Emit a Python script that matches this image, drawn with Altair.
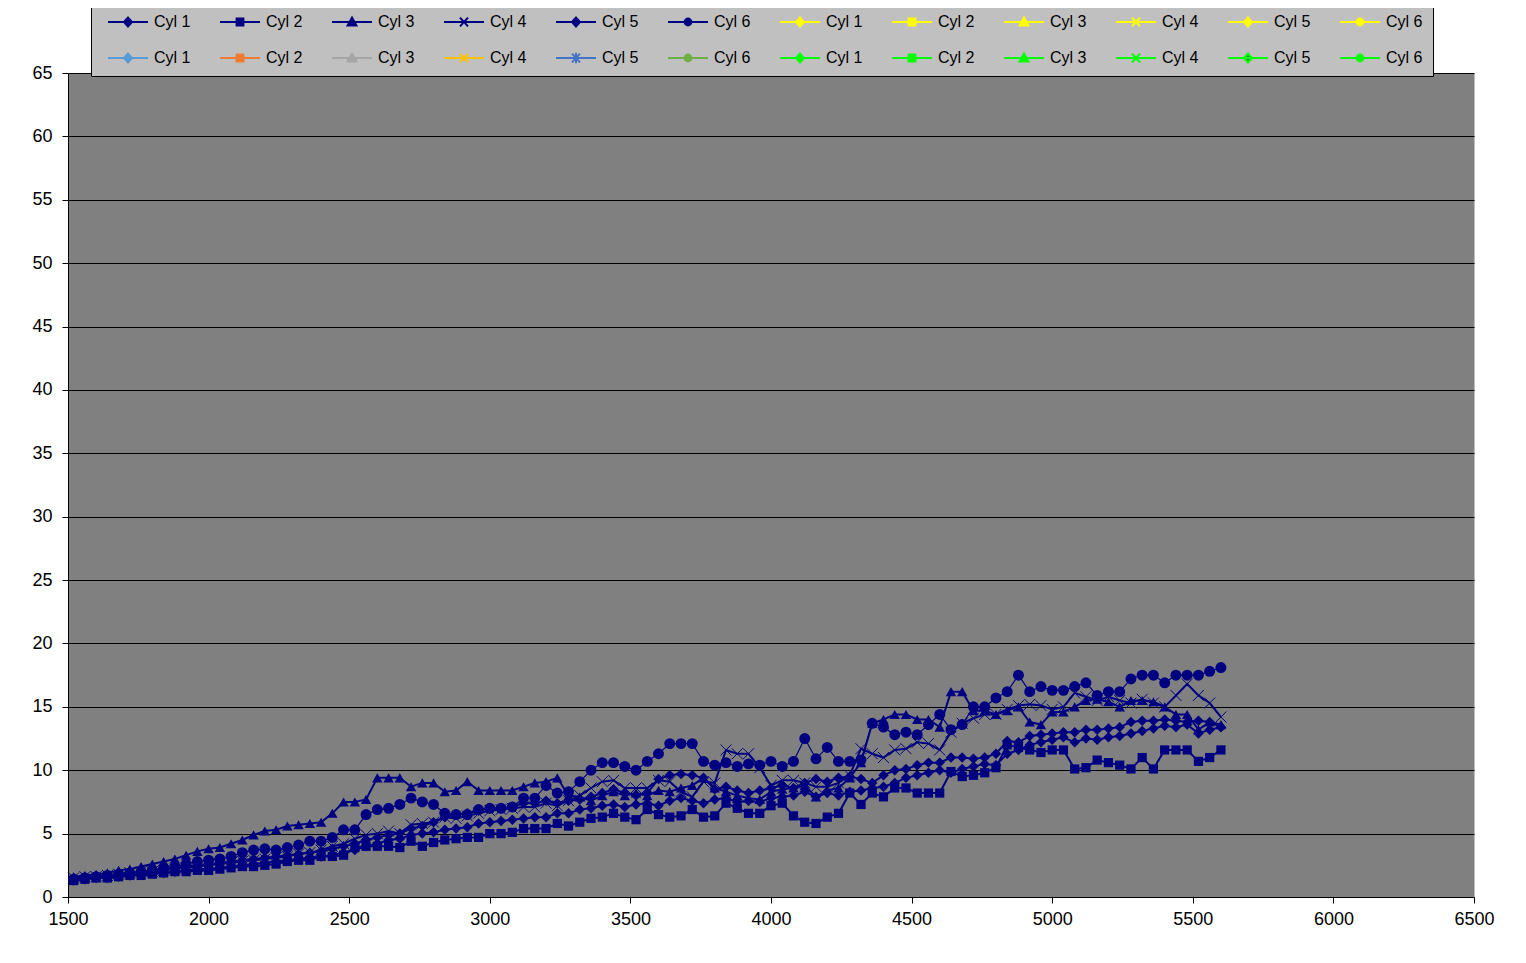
import altair as alt
import pandas as pd

# ---------------- data ----------------
RPM = [1520, 1560, 1600, 1640, 1680, 1720, 1760, 1800, 1840, 1880,
       1920, 1960, 2000, 2040, 2080, 2120, 2160, 2200, 2240, 2280,
       2320, 2360, 2400, 2440, 2480, 2520, 2560, 2600, 2640, 2680,
       2720, 2760, 2800, 2840, 2880, 2920, 2960, 3000, 3040, 3080,
       3120, 3160, 3200, 3240, 3280, 3320, 3360, 3400, 3440, 3480,
       3520, 3560, 3600, 3640, 3680, 3720, 3760, 3800, 3840, 3880,
       3920, 3960, 4000, 4040, 4080, 4120, 4160, 4200, 4240, 4280,
       4320, 4360, 4400, 4440, 4480, 4520, 4560, 4600, 4640, 4680,
       4720, 4760, 4800, 4840, 4880, 4920, 4960, 5000, 5040, 5080,
       5120, 5160, 5200, 5240, 5280, 5320, 5360, 5400, 5440, 5480,
       5520, 5560, 5600]

CYL1 = [1.5, 1.6, 1.6, 1.7, 1.8, 1.9, 2.0, 2.1, 2.2, 2.3,
        2.4, 2.5, 2.6, 2.7, 2.8, 2.9, 3.0, 3.1, 3.2, 3.3,
        3.4, 3.5, 3.6, 3.8, 4.0, 4.2, 4.5, 4.7, 4.9, 5.0,
        5.4, 5.6, 5.9, 6.3, 6.5, 6.6, 6.8, 7.0, 7.0, 7.1,
        7.4, 7.4, 7.6, 7.4, 7.6, 7.7, 7.9, 8.2, 8.5, 8.2,
        8.0, 8.2, 9.3, 9.6, 9.7, 9.6, 9.4, 8.5, 8.7, 8.4,
        8.2, 8.4, 8.6, 8.8, 8.6, 9.0, 9.3, 9.1, 9.4, 9.5,
        9.3, 9.0, 9.6, 10.0, 10.1, 10.4, 10.6, 10.6, 11.0, 11.0,
        10.9, 11.0, 11.3, 12.3, 12.2, 12.7, 12.8, 12.9, 13.0, 13.0,
        13.2, 13.2, 13.3, 13.4, 13.8, 13.9, 13.9, 14.0, 13.9, 13.8,
        13.9, 13.8, 13.4]

CYL2 = [1.3, 1.4, 1.5, 1.5, 1.6, 1.7, 1.7, 1.8, 1.9, 2.0,
        2.0, 2.1, 2.1, 2.2, 2.3, 2.4, 2.4, 2.5, 2.6, 2.8,
        2.9, 2.9, 3.2, 3.2, 3.3, 3.9, 4.0, 4.0, 4.0, 3.9,
        4.4, 4.0, 4.3, 4.5, 4.6, 4.7, 4.7, 5.0, 5.0, 5.1,
        5.4, 5.4, 5.4, 5.8, 5.6, 5.9, 6.2, 6.3, 6.6, 6.3,
        6.1, 6.9, 6.5, 6.3, 6.4, 6.9, 6.3, 6.4, 7.4, 7.0,
        6.6, 6.6, 7.2, 7.4, 6.4, 5.9, 5.8, 6.3, 6.6, 8.2,
        7.3, 8.2, 7.9, 8.6, 8.6, 8.2, 8.2, 8.2, 9.9, 9.5,
        9.6, 9.8, 10.2, 12.0, 11.8, 11.6, 11.4, 11.6, 11.6, 10.1,
        10.2, 10.8, 10.6, 10.4, 10.1, 11.0, 10.1, 11.6, 11.6, 11.6,
        10.7, 11.0, 11.6]

CYL3 = [1.6, 1.7, 1.8, 1.9, 2.1, 2.2, 2.4, 2.6, 2.8, 3.0,
        3.3, 3.6, 3.8, 3.9, 4.2, 4.5, 4.9, 5.2, 5.3, 5.6,
        5.7, 5.8, 5.9, 6.6, 7.5, 7.5, 7.7, 9.4, 9.4, 9.4,
        8.7, 9.0, 9.0, 8.3, 8.4, 9.1, 8.4, 8.4, 8.4, 8.4,
        8.7, 9.0, 9.1, 9.4, 8.0, 7.9, 7.6, 8.0, 8.3, 8.0,
        8.2, 8.0, 8.4, 8.3, 8.6, 8.8, 9.4, 8.6, 8.3, 8.0,
        7.8, 7.7, 8.3, 8.5, 8.6, 8.8, 7.9, 8.4, 8.6, 9.4,
        10.6, 13.7, 14.0, 14.4, 14.4, 14.0, 14.0, 13.4, 16.2, 16.2,
        14.7, 14.7, 14.4, 14.7, 15.0, 13.8, 13.6, 14.6, 14.6, 15.0,
        15.5, 15.6, 15.4, 15.0, 15.5, 15.5, 15.4, 15.0, 14.4, 14.4,
        13.2, 13.8, 13.6]

CYL4 = [1.5, 1.6, 1.6, 1.7, 1.8, 1.9, 2.0, 2.0, 2.1, 2.2,
        2.3, 2.4, 2.5, 2.6, 2.7, 2.8, 2.9, 3.0, 3.1, 3.2,
        3.4, 3.5, 3.7, 4.0, 4.2, 4.6, 4.9, 5.0, 5.2, 5.0,
        5.7, 5.8, 5.9, 6.3, 6.2, 6.4, 6.6, 6.8, 6.9, 7.0,
        7.1, 7.1, 7.4, 7.2, 7.6, 8.0, 8.6, 9.1, 9.2, 8.6,
        8.6, 8.6, 9.2, 9.1, 8.3, 7.9, 9.1, 9.0, 11.6, 11.3,
        11.3, 10.2, 8.8, 9.2, 9.2, 9.0, 8.7, 8.7, 9.0, 9.6,
        11.7, 11.3, 11.0, 11.6, 11.7, 12.2, 12.1, 11.6, 13.0, 13.7,
        14.1, 14.4, 14.4, 14.8, 15.1, 15.2, 15.1, 14.8, 15.0, 16.1,
        15.8, 15.5, 15.8, 15.5, 15.3, 15.6, 15.3, 15.0, 15.9, 16.8,
        15.9, 15.3, 14.2]

CYL5 = [1.3, 1.4, 1.5, 1.5, 1.6, 1.7, 1.8, 1.9, 1.9, 2.0,
        2.1, 2.2, 2.2, 2.3, 2.4, 2.5, 2.6, 2.7, 2.8, 2.9,
        3.0, 3.1, 3.2, 3.3, 3.5, 3.7, 4.0, 4.2, 4.5, 4.6,
        4.9, 5.0, 5.1, 5.3, 5.4, 5.5, 5.8, 5.9, 6.0, 6.1,
        6.2, 6.3, 6.3, 6.6, 6.6, 6.9, 7.0, 7.2, 7.3, 7.1,
        7.3, 7.4, 7.2, 7.6, 7.8, 7.6, 7.4, 7.7, 7.8, 7.5,
        7.6, 7.5, 7.8, 7.9, 8.0, 8.3, 7.9, 8.2, 8.0, 8.3,
        8.4, 8.6, 8.7, 9.0, 9.4, 9.6, 9.8, 10.0, 9.8, 10.1,
        10.3, 10.5, 10.4, 11.3, 11.6, 12.0, 12.2, 12.4, 12.6, 12.2,
        12.5, 12.4, 12.6, 12.7, 12.9, 13.1, 13.3, 13.5, 13.4, 13.6,
        12.9, 13.2, 13.4]

CYL6 = [1.4, 1.5, 1.6, 1.7, 1.8, 1.9, 2.0, 2.1, 2.3, 2.4,
        2.6, 2.8, 2.9, 3.0, 3.2, 3.5, 3.7, 3.8, 3.7, 3.9,
        4.1, 4.4, 4.4, 4.7, 5.3, 5.3, 6.5, 6.9, 7.0, 7.3,
        7.8, 7.5, 7.3, 6.6, 6.5, 6.5, 6.9, 7.0, 7.0, 7.1,
        7.8, 7.8, 8.8, 8.2, 8.3, 9.1, 10.0, 10.6, 10.6, 10.3,
        10.0, 10.7, 11.3, 12.1, 12.1, 12.1, 10.7, 10.4, 10.6, 10.3,
        10.5, 10.4, 10.7, 10.3, 10.7, 12.5, 10.9, 11.8, 10.7, 10.7,
        10.8, 13.7, 13.4, 12.8, 13.0, 12.8, 13.6, 14.4, 13.2, 13.6,
        15.0, 15.0, 15.7, 16.2, 17.5, 16.2, 16.6, 16.3, 16.3, 16.6,
        16.9, 15.9, 16.2, 16.2, 17.2, 17.5, 17.5, 16.9, 17.5, 17.5,
        17.5, 17.8, 18.1]

SERIES_KEYS = ["1a", "2a", "3a", "4a", "5a", "6a"]
SERIES_VALUES = [CYL1, CYL2, CYL3, CYL4, CYL5, CYL6]

# legend entries (24 series of the workbook, only the first six hold data)
LEGEND_KEYS = ["1a", "2a", "3a", "4a", "5a", "6a",
               "1b", "2b", "3b", "4b", "5b", "6b",
               "1c", "2c", "3c", "4c", "5c", "6c",
               "1d", "2d", "3d", "4d", "5d", "6d"]
LEGEND_STROKE = ["#000080"] * 6 + ["#FFFF00"] * 6 + \
    ["#5B9BD5", "#ED7D31", "#A5A5A5", "#FFC000", "#4472C4", "#70AD47"] + ["#00FF00"] * 6
LEGEND_FILL = ["#000080"] * 6 + ["#FFFF00"] * 6 + \
    ["#5B9BD5", "#ED7D31", "#A5A5A5", "#FFC000", "#4472C4", "#70AD47"] + \
    ["#00FF00"] * 4 + ["#2E7D4F", "#00FF00"]

X_TICKS = [1500, 2000, 2500, 3000, 3500, 4000, 4500, 5000, 5500, 6000, 6500]
Y_TICKS = [0, 5, 10, 15, 20, 25, 30, 35, 40, 45, 50, 55, 60, 65]

# ---------------- shapes ----------------
LINE = "M-1,0L1,0"
DIA = "M0,-0.22L0.2,0L0,0.22L-0.2,0Z"
SQR = "M-0.17,-0.17L0.17,-0.17L0.17,0.17L-0.17,0.17Z"
TRI = "M0,-0.22L0.22,0.18L-0.22,0.18Z"
XX = "M-0.2,-0.22L0.2,0.22M-0.2,0.22L0.2,-0.22"
STAR = XX + "M0,-0.26L0,0.26"
CIR = "M-0.17,0A0.17,0.17,0,1,1,0.17,0A0.17,0.17,0,1,1,-0.17,0Z"

row_marks = [DIA, SQR, TRI, XX, DIA, CIR]
LEGEND_SHAPES = ([LINE + m for m in row_marks] * 2
                 + [LINE + m for m in [DIA, SQR, TRI, XX, STAR, CIR]]
                 + [LINE + m for m in row_marks])

PLOT_X = "M-1,-1L1,1M-1,1L1,-1"

# ---------------- tables ----------------
rows = []
for key, vals in zip(SERIES_KEYS, SERIES_VALUES):
    for r, v in zip(RPM, vals):
        rows.append({"key": key, "rpm": r, "v": v})
df = pd.DataFrame(rows)
leg_df = pd.DataFrame({"key": LEGEND_KEYS})

FONT = "Arial, Liberation Sans"
NAVY = "#000080"

xenc = alt.X("rpm:Q", scale=alt.Scale(domain=[1500, 6500], nice=False, zero=False),
             axis=alt.Axis(values=X_TICKS, title=None, grid=False, format="d",
                           labelFlush=False, labelPadding=7))
yenc = alt.Y("v:Q", scale=alt.Scale(domain=[0, 65], nice=False),
             axis=alt.Axis(values=Y_TICKS, title=None, grid=True, format="d",
                           labelFlush=False, labelPadding=10))

base = alt.Chart(df)

lines = base.mark_line(color=NAVY, clip=True).encode(
    x=xenc, y=yenc, detail="key:N",
    strokeWidth=alt.condition(alt.datum.key == "6a", alt.value(1.2), alt.value(2)),
)

def pts(keys, **kw):
    return base.transform_filter(
        alt.FieldOneOfPredicate(field="key", oneOf=keys)
    ).mark_point(opacity=1, **kw).encode(x="rpm:Q", y="v:Q")

p1 = pts(["1a", "5a"], shape="diamond", filled=True, color=NAVY, size=110)
p2 = pts(["2a"], shape="square", filled=True, color=NAVY, size=85)
p3 = pts(["3a"], shape="triangle-up", filled=True, color=NAVY, size=110)
p4 = pts(["4a"], shape=PLOT_X, filled=False, color=NAVY, size=120, strokeWidth=1)
p6 = pts(["6a"], shape="circle", filled=True, color=NAVY, size=120)

legend = alt.Legend(
    orient="none", legendX=23, legendY=-69, direction="horizontal", columns=12,
    title=None, labelExpr="'Cyl ' + substring(datum.label, 0, 1)",
    symbolSize=1600, symbolStrokeWidth=2, symbolOpacity=1,
    symbolOffset=6, clipHeight=16,
    labelFont=FONT, labelFontSize=16, labelColor="black", labelOffset=5,
    fillColor="#C0C0C0", strokeColor="black", padding=10,
    rowPadding=20, columnPadding=22,
)

leg = alt.Chart(leg_df).transform_filter("false").mark_point(opacity=1, strokeWidth=2).encode(
    x=alt.value(0), y=alt.value(0),
    fill=alt.Fill("key:N", scale=alt.Scale(domain=LEGEND_KEYS, range=LEGEND_FILL), legend=legend),
    stroke=alt.Stroke("key:N", scale=alt.Scale(domain=LEGEND_KEYS, range=LEGEND_STROKE), legend=legend),
    shape=alt.Shape("key:N", scale=alt.Scale(domain=LEGEND_KEYS, range=LEGEND_SHAPES), legend=legend),
)

chart = alt.layer(lines, p1, p2, p3, p4, p6, leg).properties(
    width=1406, height=824,
    padding={"left": 60, "top": 65, "right": 44, "bottom": 50},
    autosize=alt.AutoSizeParams(type="none"),
    background="white",
).configure_view(
    fill="#808080", stroke="transparent"
).configure_axis(
    labelFont=FONT, labelFontSize=18, labelColor="black",
    domainColor="black", domainWidth=1, tickColor="black", tickSize=6,
    gridColor="black", gridWidth=1, gridOpacity=1,
)

chart.save("out.html", embed_options={"renderer": "svg", "actions": False})
